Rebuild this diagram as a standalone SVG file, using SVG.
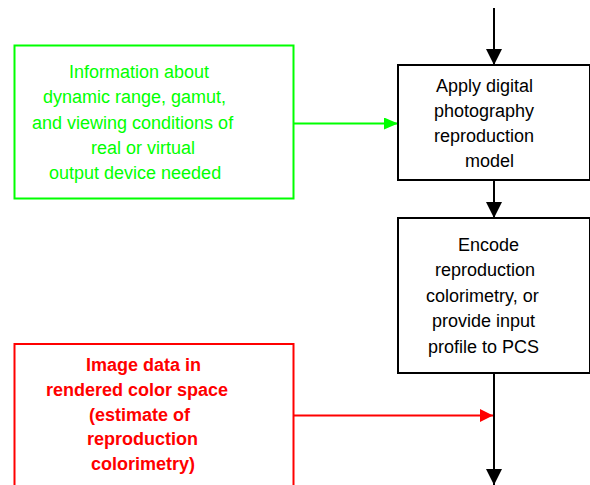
<svg xmlns="http://www.w3.org/2000/svg" width="590" height="485" viewBox="0 0 590 485">
<defs>
<style>
.t{font-family:"Liberation Sans",Arial,sans-serif;font-size:18px}
.g{fill:#00ff00}
.r{fill:#ff0000;font-weight:bold}
.k{fill:#000000}
.box{fill:#ffffff;stroke-width:2}
</style>
<marker id="ak" markerWidth="16" markerHeight="16" viewBox="0 0 16 16" refX="16" refY="8" orient="auto" markerUnits="userSpaceOnUse"><path d="M0,0 L16,8 L0,16 Z" fill="#000"/></marker>
<marker id="ag" markerWidth="14" markerHeight="12" viewBox="0 0 14 12" refX="14" refY="6" orient="auto" markerUnits="userSpaceOnUse"><path d="M0,0 L14,6 L0,12 Z" fill="#00ff00"/></marker>
<marker id="ar" markerWidth="13" markerHeight="13" viewBox="0 0 13 13" refX="13" refY="6.5" orient="auto" markerUnits="userSpaceOnUse"><path d="M0,0 L13,6.5 L0,13 Z" fill="#ff0000"/></marker>
</defs>
<g id="connectors" fill="none" stroke-width="2">
<line x1="494" y1="8" x2="494" y2="65" stroke="#000" marker-end="url(#ak)"/>
<line x1="494" y1="180" x2="494" y2="218" stroke="#000" marker-end="url(#ak)"/>
<line x1="494" y1="373" x2="494" y2="485" stroke="#000" marker-end="url(#ak)"/>
<line x1="293" y1="123.5" x2="398" y2="123.5" stroke="#00ff00" marker-end="url(#ag)"/>
<line x1="293" y1="415.5" x2="493" y2="415.5" stroke="#ff0000" marker-end="url(#ar)"/>
</g>
<g id="info">
<rect class="box" x="14.5" y="45.5" width="279" height="153" stroke="#00ff00" stroke-width="2.5"/>
<text class="t g" x="69" y="77.5">Information about</text>
<text class="t g" x="43" y="103">dynamic range, gamut,</text>
<text class="t g" x="32" y="128.7">and viewing conditions of</text>
<text class="t g" x="91" y="154">real or virtual</text>
<text class="t g" x="49" y="179">output device needed</text>
</g>
<g id="apply">
<rect class="box" x="398" y="65" width="192" height="115" stroke="#000"/>
<text class="t k" x="436" y="92">Apply digital</text>
<text class="t k" x="434" y="117">photography</text>
<text class="t k" x="434" y="142">reproduction</text>
<text class="t k" x="465" y="166.5">model</text>
</g>
<g id="encode">
<rect class="box" x="398" y="218" width="192" height="155" stroke="#000"/>
<text class="t k" x="458" y="250.7">Encode</text>
<text class="t k" x="435" y="275.7">reproduction</text>
<text class="t k" x="426" y="301.5">colorimetry, or</text>
<text class="t k" x="432" y="327">provide input</text>
<text class="t k" x="428" y="352.7">profile to PCS</text>
</g>
<g id="image">
<rect class="box" x="14.5" y="344" width="279" height="160" stroke="#ff0000" stroke-width="2.5"/>
<text class="t r" x="86" y="370.7">Image data in</text>
<text class="t r" x="46" y="395.7">rendered color space</text>
<text class="t r" x="89" y="420.5">(estimate of</text>
<text class="t r" x="87" y="445">reproduction</text>
<text class="t r" x="91" y="470">colorimetry)</text>
</g>
</svg>
